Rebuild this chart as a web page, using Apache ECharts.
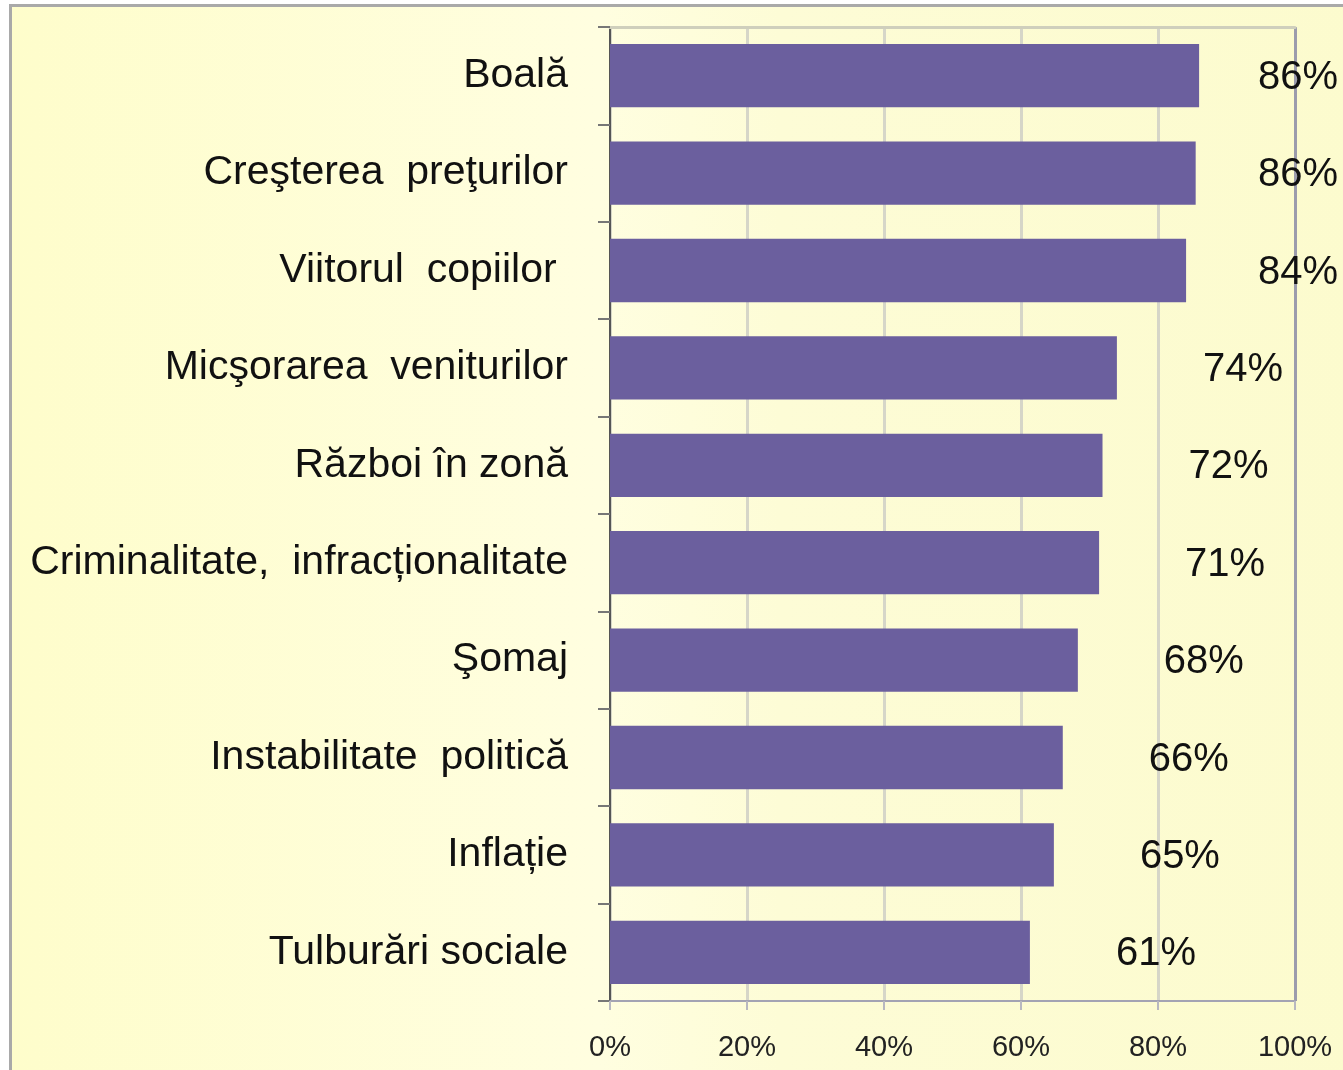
<!DOCTYPE html>
<html>
<head>
<meta charset="utf-8">
<script src="https://cdn.jsdelivr.net/npm/echarts@6/dist/echarts.min.js"></script>
<style>
  html, body { margin: 0; padding: 0; background: #fff; }
  #chart { width: 1343px; height: 1070px; }
</style>
</head>
<body>
<div id="chart"></div>
<script>
// categories, top to bottom
const categories = [
  "Boală",
  "Creşterea  preţurilor",
  "Viitorul  copiilor ",
  "Micşorarea  veniturilor",
  "Război în zonă",
  "Criminalitate,  infracționalitate",
  "Şomaj",
  "Instabilitate  politică",
  "Inflație",
  "Tulburări sociale"
];
// share of respondents, %
const shares = [86.0, 85.5, 84.1, 74.0, 71.9, 71.4, 68.3, 66.1, 64.8, 61.3];
const xTicks = [0, 20, 40, 60, 80, 100];

const chart = echarts.init(document.getElementById("chart"));
chart.setOption({
  backgroundColor: "#ffffff",
  animation: false,
  graphic: {
    elements: [
      {
        type: "rect",
        z: -100,
        silent: true,
        shape: { x: 10.5, y: 5.5, width: 1400, height: 1100 },
        style: {
          fill: new echarts.graphic.LinearGradient(0, 0, 1, 0, [
            { offset: 0, color: "#fefdcb" },
            { offset: 0.42, color: "#fffee0" },
            { offset: 0.55, color: "#fdfcd6" },
            { offset: 1, color: "#fcfbcd" }
          ]),
          stroke: "#a9a9a9",
          lineWidth: 3
        }
      }
    ]
  },
  grid: {
    left: 610,
    right: 48,
    top: 27,
    bottom: 69,
    containLabel: false
  },
  xAxis: [
    {
      type: "value",
      min: xTicks[0],
      max: xTicks[xTicks.length - 1],
      interval: 20,
      axisLabel: {
        formatter: "{value}%",
        color: "#222",
        fontSize: 29,
        fontFamily: "Liberation Sans, Arial, sans-serif",
        margin: 32
      },
      axisLine: { show: true, lineStyle: { color: "#a3a3b3", width: 2 } },
      axisTick: { show: true, length: 9, lineStyle: { color: "#b8b8c0", width: 2 } },
      splitLine: {
        show: true,
        lineStyle: {
          color: ["#d6d6c8", "#d6d6c8", "#d6d6c8", "#d6d6c8", "#d6d6c8", "#9c9cac"],
          width: 3
        }
      }
    },
    {
      type: "value",
      position: "top",
      min: 0,
      max: 100,
      axisLabel: { show: false },
      axisTick: { show: false },
      splitLine: { show: false },
      axisLine: { show: true, lineStyle: { color: "#cfcfbc", width: 3 } }
    }
  ],
  yAxis: {
    type: "category",
    inverse: true,
    data: categories,
    axisLine: { show: true, lineStyle: { color: "#555555", width: 2 } },
    axisTick: { show: true, length: 12, lineStyle: { color: "#777777", width: 2 } },
    axisLabel: {
      color: "#111",
      fontSize: 41,
      fontFamily: "Liberation Sans, Arial, sans-serif",
      margin: 42
    }
  },
  series: [
    {
      type: "bar",
      data: shares,
      barCategoryGap: "35%",
      itemStyle: { color: "#6b5f9e" },
      label: {
        show: true,
        position: "right",
        distance: 86,
        color: "#111",
        fontSize: 40,
        fontFamily: "Liberation Sans, Arial, sans-serif",
        formatter: p => Math.round(p.value) + "%"
      },
      labelLayout: function (params) {
        const r = params.labelRect;
        return { dx: Math.min(0, 1338 - (r.x + r.width)), dy: 2 };
      }
    }
  ]
});
</script>
</body>
</html>
